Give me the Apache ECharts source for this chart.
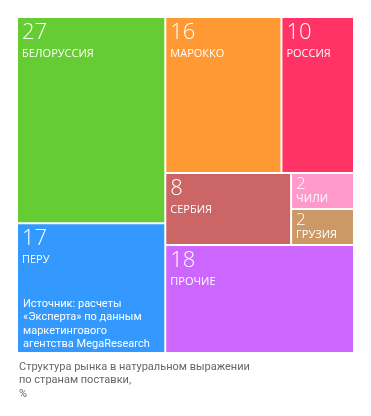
<!DOCTYPE html>
<html>
<head>
<meta charset="utf-8">
<script src="https://cdn.jsdelivr.net/npm/echarts@6/dist/echarts.min.js"></script>
<style>
html,body{margin:0;padding:0;background:#fff;}
#chart{width:371px;height:416px;}
</style>
</head>
<body>
<div id="chart"></div>
<script>
// Data
const countries = ['БЕЛОРУССИЯ', 'ПЕРУ', 'МАРОККО', 'РОССИЯ', 'СЕРБИЯ', 'ЧИЛИ', 'ГРУЗИЯ', 'ПРОЧИЕ'];
const shares = [27, 17, 16, 10, 8, 2, 2, 18];
const colors = ['#66cc33', '#3399ff', '#ff9933', '#ff3366', '#cc6666', '#ff99cc', '#cc9966', '#cc66ff'];
const sourceLines = ['Источник: расчеты', '«Эксперта» по данным', 'маркетингового', 'агентства MegaResearch'];
const captionLines = ['Структура рынка в натуральном выражении', 'по странам поставки,', '%'];

// grouping of tiles (by country index)
const groups = [
  [0, 1],
  [[[2, 3], [4, [5, 6]]], 7]
];

const FONT = '"Open Sans", "Noto Sans", sans-serif';
const FONT2 = 'Roboto, "Noto Sans", sans-serif';

function leaf(i) {
  const small = shares[i] < 5;
  return {
    name: countries[i],
    value: shares[i],
    itemStyle: { color: colors[i] },
    label: {
      show: true,
      position: 'insideTopLeft',
      overflow: 'none',
      padding: small ? [1, 4, 0, 4] : [2, 4, 0, 4],
      formatter: (small ? '{ns|' : '{n|') + shares[i] + '}\n' + (small ? '{ts|' : '{t|') + countries[i] + '}',
      rich: {
        n: { fontFamily: FONT, fontSize: 22, fontWeight: 300, color: '#fff', lineHeight: 26 },
        t: { fontFamily: FONT, fontSize: 11, color: '#fff', lineHeight: 16 },
        ns: { fontFamily: FONT, fontSize: 17, fontWeight: 300, color: '#fff', lineHeight: 18 },
        ts: { fontFamily: FONT, fontSize: 11, color: '#fff', lineHeight: 12 }
      }
    }
  };
}

function build(g) {
  if (typeof g === 'number') return leaf(g);
  const children = g.map(build);
  const v = children.reduce((s, c) => s + c.value, 0);
  return { value: v, children: children, label: { show: false }, upperLabel: { show: false } };
}

const treeData = groups.map(build);

const chart = echarts.init(document.getElementById('chart'), null, { renderer: 'canvas' });
chart.setOption({
  animation: false,
  series: [{
    type: 'treemap',
    left: 18,
    top: 18,
    width: 335,
    height: 334,
    roam: false,
    nodeClick: false,
    sort: false,
    squareRatio: 0.01,
    breadcrumb: { show: false },
    itemStyle: { borderWidth: 0, gapWidth: 2, borderColor: '#fff' },
    levels: [
      { itemStyle: { borderWidth: 0, gapWidth: 2, borderColor: '#fff' } },
      { itemStyle: { borderWidth: 0, gapWidth: 2, borderColor: '#fff' } },
      { itemStyle: { borderWidth: 0, gapWidth: 2, borderColor: '#fff' } },
      { itemStyle: { borderWidth: 0, gapWidth: 2, borderColor: '#fff' } },
      { itemStyle: { borderWidth: 0, gapWidth: 2, borderColor: '#fff' } }
    ],
    data: treeData
  }],
  graphic: [
    {
      type: 'text', left: 23, top: 297, z: 100,
      style: { text: sourceLines.join('\n'), fill: '#fff', font: '11px ' + FONT2, lineHeight: 13.5 }
    },
    {
      type: 'text', left: 19, top: 360, z: 100,
      style: { text: captionLines.join('\n'), fill: '#666', font: '11px ' + FONT2, lineHeight: 13.5 }
    }
  ]
});
</script>
</body>
</html>
